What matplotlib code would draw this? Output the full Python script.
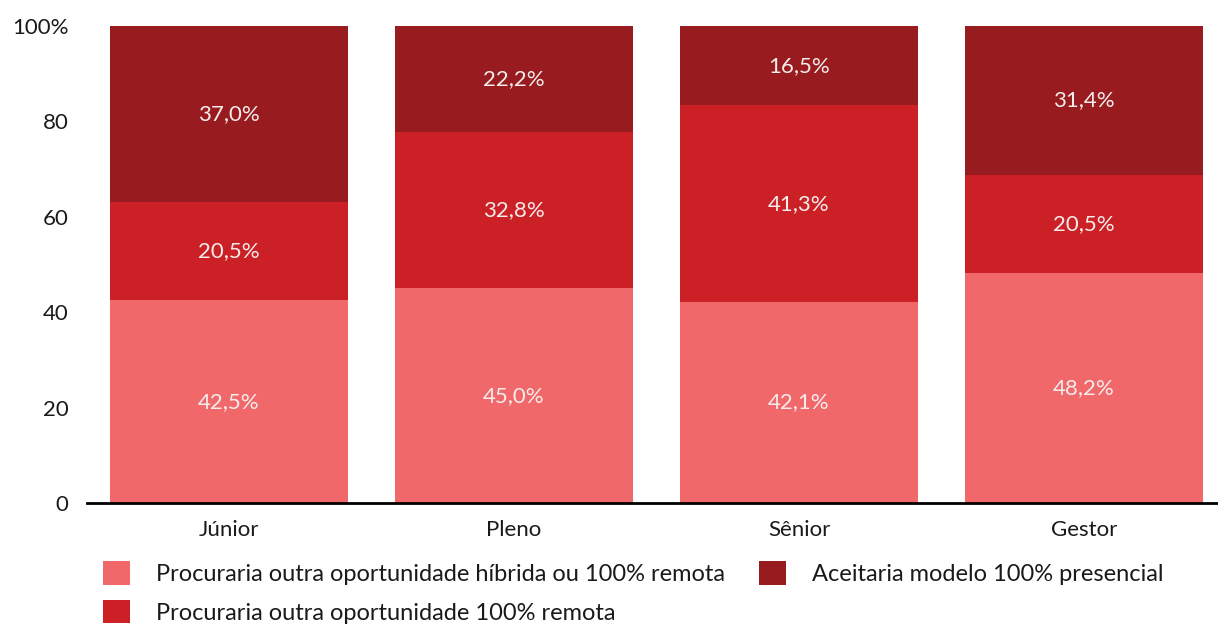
import numpy as np
import matplotlib.pyplot as plt
from matplotlib.ticker import FixedLocator, FixedFormatter

plt.rcParams['font.family'] = ['Lato', 'DejaVu Sans']

categories = ['Júnior', 'Pleno', 'Sênior', 'Gestor']
hibrida = [42.5, 45.0, 42.1, 48.2]
remota = [20.5, 32.8, 41.3, 20.5]
presencial = [37.0, 22.2, 16.5, 31.4]
series_names = ['Procuraria outra oportunidade híbrida ou 100% remota',
                'Procuraria outra oportunidade 100% remota',
                'Aceitaria modelo 100% presencial']
colors = ['#F0686A', '#CC2027', '#971B1F']
ytick_labels = ['0', '20', '40', '60', '80', '100%']

fig = plt.figure(figsize=(12.18, 6.26), dpi=100)
ax = fig.add_axes([86.5 / 1218, 1 - 503 / 626, 1 - 86.5 / 1218, 477 / 626])

x = np.arange(len(categories))
bottom = np.zeros(len(categories))
handles = []
for vals, name, col in zip([hibrida, remota, presencial], series_names, colors):
    bars = ax.bar(x, vals, width=0.835, bottom=bottom, color=col, label=name)
    handles.append(bars)
    for xi, b, v in zip(x, bottom, vals):
        ax.text(xi, b + v / 2, f'{v:.1f}%'.replace('.', ','), ha='center', va='center',
                color='#F5ECEC', fontsize=16)
    bottom += np.array(vals)

ax.set_xlim(-0.5, 3.47)
ax.set_ylim(0, 100)
ax.yaxis.set_major_locator(FixedLocator([0, 20, 40, 60, 80, 100]))
ax.yaxis.set_major_formatter(FixedFormatter(ytick_labels))
ax.set_xticks(x)
ax.set_xticklabels(categories)
ax.tick_params(axis='both', length=0, labelsize=16, colors='#1a1a1a')
ax.tick_params(axis='y', pad=13)
ax.tick_params(axis='x', pad=12)
for s in ['top', 'right', 'left']:
    ax.spines[s].set_visible(False)
ax.spines['bottom'].set_linewidth(2)
ax.spines['bottom'].set_color('black')

leg = fig.legend(handles=[handles[0], handles[1], handles[2]],
                 labels=[series_names[0], series_names[1], series_names[2]],
                 ncol=2, loc='upper left', bbox_to_anchor=(0.067, 0.137),
                 frameon=False, fontsize=17, handlelength=1.15, handleheight=1.15,
                 handletextpad=1.1, columnspacing=1.45, labelspacing=0.62)
for t in leg.get_texts():
    t.set_color('#1a1a1a')

fig.savefig('out.png', dpi=100)
